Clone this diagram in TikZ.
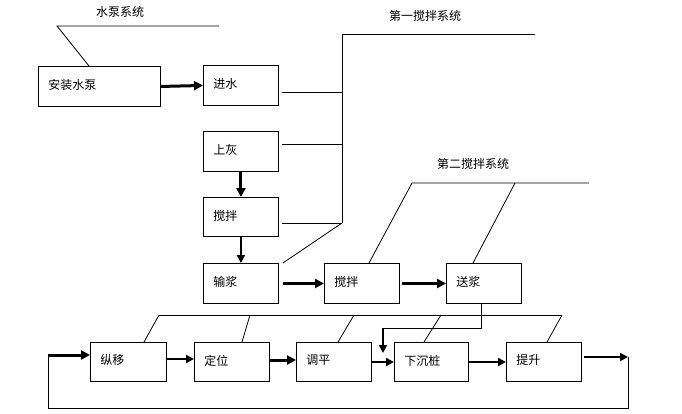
\documentclass[tikz,border=0pt]{standalone}
\usepackage{fontspec}
\newfontfamily\cjk{Noto Sans CJK SC}
\usetikzlibrary{arrows.meta,calc}
\tikzset{
  box/.style n args={2}{draw, line width=0.9pt, anchor=north west, minimum width=#1, minimum height=#2,
    text width=#1-20pt, inner xsep=10pt, inner ysep=0pt, align=left,
    font=\cjk\fontsize{12}{14}\selectfont},
  ttl/.style={font=\cjk\fontsize{12}{14}\selectfont, inner sep=0pt},
  thin/.style={line width=0.8pt},
  arrA/.style={line width=3pt, -{Triangle[length=9pt,width=9pt]}},
  arrB/.style={line width=2pt, -{Triangle[length=8pt,width=8pt]}},
}
\newcommand{\bt}[1]{\raisebox{4pt}{#1}}
\begin{document}
\begin{tikzpicture}[x=1pt,y=-1pt]
\useasboundingbox (0,0) rectangle (682,413);
% boxes
\node[box={122pt}{40pt}] (pump) at (38,66) {\bt{安装水泵}};
\node[box={75pt}{40pt}] (water) at (203,65) {\bt{进水}};
\node[box={75pt}{40pt}] (lime) at (203,131) {\bt{上灰}};
\node[box={75pt}{39pt}] (mixa) at (203,197) {\bt{搅拌}};
\node[box={75pt}{40pt}] (pulp) at (203,263) {\bt{输浆}};
\node[box={75pt}{40pt}] (mixb) at (324,263) {\bt{搅拌}};
\node[box={75pt}{40pt}] (send) at (446,263) {\bt{送浆}};
\node[box={76pt}{39pt}] (move) at (90,342) {\bt{纵移}};
\node[box={75pt}{39pt}] (pos) at (194,342) {\bt{定位}};
\node[box={75pt}{39pt}] (lev) at (296,342) {\bt{调平}};
\node[box={74pt}{39pt}] (sink) at (394,342) {\bt{下沉桩}};
\node[box={75pt}{39pt}] (lift) at (506,342) {\bt{提升}};
% titles
\node[ttl] (t1) at (120,12) {水泵系统};
\node[ttl] (t2) at (425,16) {第一搅拌系统};
\node[ttl] (t3) at (473,164) {第二搅拌系统};
% pump system bracket
\coordinate (pa) at (57,26);
\coordinate (pb) at (219,26);
\draw[thin] (pb) -- (pa) -- ($(pump.north west)+(51,0)$);
% first mixing system
\coordinate (fa) at (342,34);
\coordinate (fb) at (535,34);
\coordinate (f1) at (342,92);
\coordinate (f2) at (342,144);
\coordinate (f3) at (342,223);
\draw[thin] (fb) -- (fa) -- (f3);
\draw[thin] ($(water.east |- f1)+(3,0)$) -- (f1);
\draw[thin] ($(lime.east |- f2)+(3,0)$) -- (f2);
\draw[thin] ($(mixa.east |- f3)+(3,0)$) -- (f3);
\draw[thin] (f3) -- ($(pulp.north east)+(4,0)$);
% second mixing system
\coordinate (sa) at (412,183);
\coordinate (sb) at (589,183);
\coordinate (sc) at (515,183);
\draw[thin] (sb) -- (sa) -- ($(mixb.north west)+(45,0)$);
\draw[thin] (sc) -- ($(send.north west)+(27,0)$);
% upper flow arrows
\draw[arrA] (pump.east) -- (water.west);
\draw[arrA] (lime.south) -- (mixa.north);
\draw[arrB] (mixa.south) -- (pulp.north);
\draw[arrA, shorten <=4pt] (pulp.east) -- (mixb.west);
\draw[arrA, shorten <=2pt] (mixb.east) -- (send.west);
% long bar over lower row
\coordinate (la) at (159,315);
\coordinate (lb) at (562,315);
\draw[thin] (la) -- (lb);
\draw[thin] (la) -- ($(move.north west)+(54,0)$);
\coordinate (l2) at (250,315);
\draw[thin] (l2) -- ($(pos.north west)+(48,0)$);
\coordinate (l3) at (354,315);
\draw[thin] (l3) -- ($(lev.north west)+(42,0)$);
\coordinate (l4) at (441,315);
\draw[thin] (l4) -- ($(sink.north west)+(30,0)$);
\draw[thin] (lb) -- ($(lift.north west)+(41,0)$);
% slurry feed down
\coordinate (d1) at (481,328);
\coordinate (d2) at (383,328);
\coordinate (d3) at (383,353);
\draw[thin] (send.south -| d1) -- (d1) -- (d2);
\draw[arrB] (d2) -- (d3);
% lower flow arrows
\coordinate (inL) at (48,355);
\coordinate (outR) at (628,357);
\coordinate (botL) at (48,408);
\coordinate (botR) at (628,408);
\draw[thin] (outR) -- (botR) -- (botL) -- (inL);
\draw[arrA] (inL) -- (inL -| move.west);
\draw[arrB] (move.east |- 0,359) -- (pos.west |- 0,359);
\draw[arrA] (pos.east |- 0,360) -- (lev.west |- 0,360);
\draw[arrB] (lev.east |- 0,362) -- (sink.west |- 0,362);
\draw[arrB] (sink.east |- 0,362) -- (lift.west |- 0,362);
\draw[arrB, shorten <=2pt] (lift.east |- outR) -- (outR);
\end{tikzpicture}
\end{document}
